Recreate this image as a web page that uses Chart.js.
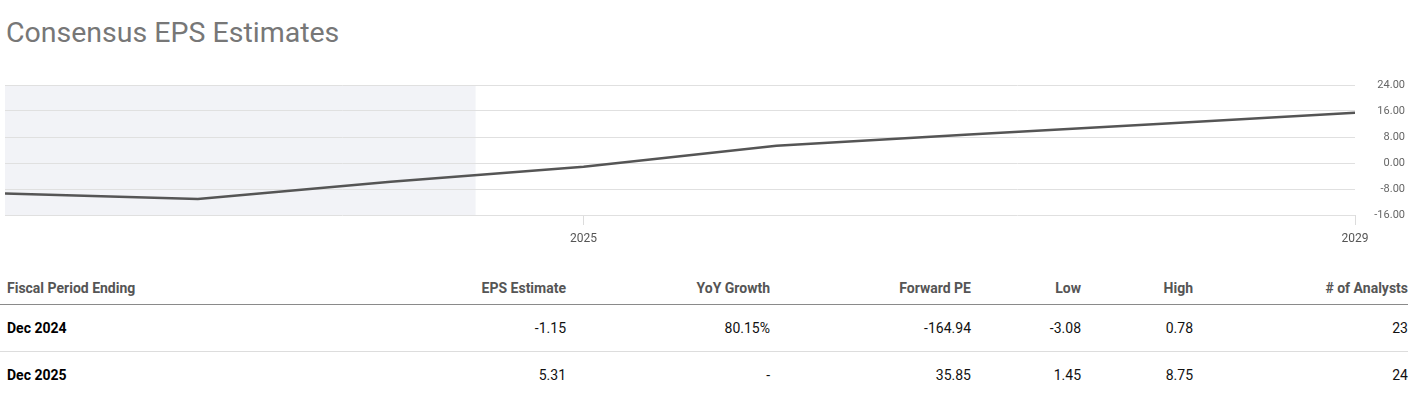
<!DOCTYPE html>
<html>
<head>
<meta charset="utf-8">
<script src="https://cdn.jsdelivr.net/npm/chart.js@4"></script>
<style>
  html, body { margin: 0; padding: 0; background: #fff; width: 1427px; height: 399px; overflow: hidden; font-family: Roboto, "Noto Sans", sans-serif; }
  #title { position: absolute; left: 6px; top: 15px; font-size: 28.5px; line-height: 36px; color: #777; font-weight: 400; white-space: nowrap; }
  #c { position: absolute; left: 0; top: 70px; }
  table { position: absolute; left: 0; top: 272px; width: 1408px; border-collapse: collapse; table-layout: fixed; font-size: 14px; }
  th { height: 32px; padding: 0; font-weight: 700; color: #555; border-bottom: 1px solid #8a8a8a; text-align: right; vertical-align: middle; }
  td { height: 46px; padding: 0; color: #111; text-align: right; vertical-align: middle; }
  tr.r1 td { border-bottom: 1px solid #ddd; }
  th.first, td.first { text-align: left; padding-left: 7px; }
  td.first { font-weight: 700; color: #000; }
</style>
</head>
<body>
<div id="title">Consensus EPS Estimates</div>
<canvas id="c" width="1427" height="190"></canvas>
<table id="tbl">
  <colgroup>
    <col style="width:300px"><col style="width:266px"><col style="width:204px"><col style="width:201px"><col style="width:110px"><col style="width:112px"><col style="width:215px">
  </colgroup>
  <thead><tr id="head"></tr></thead>
  <tbody id="body"></tbody>
</table>
<script>
// ---- chart data ----
const periodYears = [2022, 2023, 2024, 2025, 2026, 2027, 2028, 2029]; // fiscal year-ends (Dec of previous year)
const epsValues   = [-9.4, -11.1, -5.79, -1.15, 5.31, 8.8, 12.1, 15.5];
const xTickYears  = [2025, 2029];
const yTickValues = [-16, -8, 0, 8, 16, 24];
const shadeEndYear = 2024.44; // history / estimate boundary

// ---- table data ----
const tableHeaders = ["Fiscal Period Ending", "EPS Estimate", "YoY Growth", "Forward PE", "Low", "High", "# of Analysts"];
const tablePeriods = ["Dec 2024", "Dec 2025"];
const tableEps     = ["-1.15", "5.31"];
const tableGrowth  = ["80.15%", "-"];
const tableFwdPE   = ["-164.94", "35.85"];
const tableLow     = ["-3.08", "1.45"];
const tableHigh    = ["0.78", "8.75"];
const tableCount   = ["23", "24"];

const head = document.getElementById('head');
tableHeaders.forEach((h, i) => {
  const th = document.createElement('th');
  th.textContent = h;
  if (i === 0) th.className = 'first';
  head.appendChild(th);
});
const body = document.getElementById('body');
tablePeriods.forEach((p, r) => {
  const tr = document.createElement('tr');
  if (r === 0) tr.className = 'r1';
  [p, tableEps[r], tableGrowth[r], tableFwdPE[r], tableLow[r], tableHigh[r], tableCount[r]].forEach((v, i) => {
    const td = document.createElement('td');
    td.textContent = v;
    if (i === 0) td.className = 'first';
    tr.appendChild(td);
  });
  body.appendChild(tr);
});

const shadePlugin = {
  id: 'shade',
  beforeDraw(chart) {
    const { ctx, chartArea, scales } = chart;
    const xEnd = scales.x.getPixelForValue(shadeEndYear);
    ctx.save();
    ctx.fillStyle = '#f2f3f7';
    ctx.fillRect(chartArea.left, chartArea.top, xEnd - chartArea.left, chartArea.bottom - chartArea.top);
    ctx.restore();
  }
};

new Chart(document.getElementById('c'), {
  type: 'line',
  data: {
    datasets: [{
      data: periodYears.map((x, i) => ({ x, y: epsValues[i] })),
      borderColor: '#555555',
      borderWidth: 2.5,
      pointRadius: 0,
      tension: 0,
      fill: false
    }]
  },
  options: {
    responsive: false,
    animation: false,
    layout: { padding: { left: 5, right: 22, top: 15, bottom: 15 } },
    plugins: { legend: { display: false }, tooltip: { enabled: false } },
    scales: {
      x: {
        type: 'linear',
        min: periodYears[0],
        max: periodYears[periodYears.length - 1],
        afterBuildTicks(scale) { scale.ticks = xTickYears.map(v => ({ value: v })); },
        afterFit(scale) { scale.height = 30; scale.paddingLeft = 0; scale.paddingRight = 0; },
        ticks: {
          callback: v => String(v),
          color: '#555',
          font: { family: 'Roboto', size: 12 },
          padding: 7,
          maxRotation: 0
        },
        grid: { drawOnChartArea: false, drawTicks: true, tickLength: 10, color: '#dcdcdc' },
        border: { display: false }
      },
      y: {
        position: 'right',
        min: yTickValues[0],
        max: yTickValues[yTickValues.length - 1],
        afterBuildTicks(scale) { scale.ticks = yTickValues.map(v => ({ value: v })); },
        afterFit(scale) { scale.width = 50; scale.paddingTop = 0; scale.paddingBottom = 0; },
        ticks: {
          callback: v => Number(v).toFixed(2),
          color: '#666',
          font: { family: 'Roboto', size: 11 },
          crossAlign: 'far',
          padding: 27
        },
        grid: { color: '#e0e0e0', drawTicks: false, lineWidth: 1 },
        border: { display: false }
      }
    }
  },
  plugins: [shadePlugin]
});
</script>
</body>
</html>
